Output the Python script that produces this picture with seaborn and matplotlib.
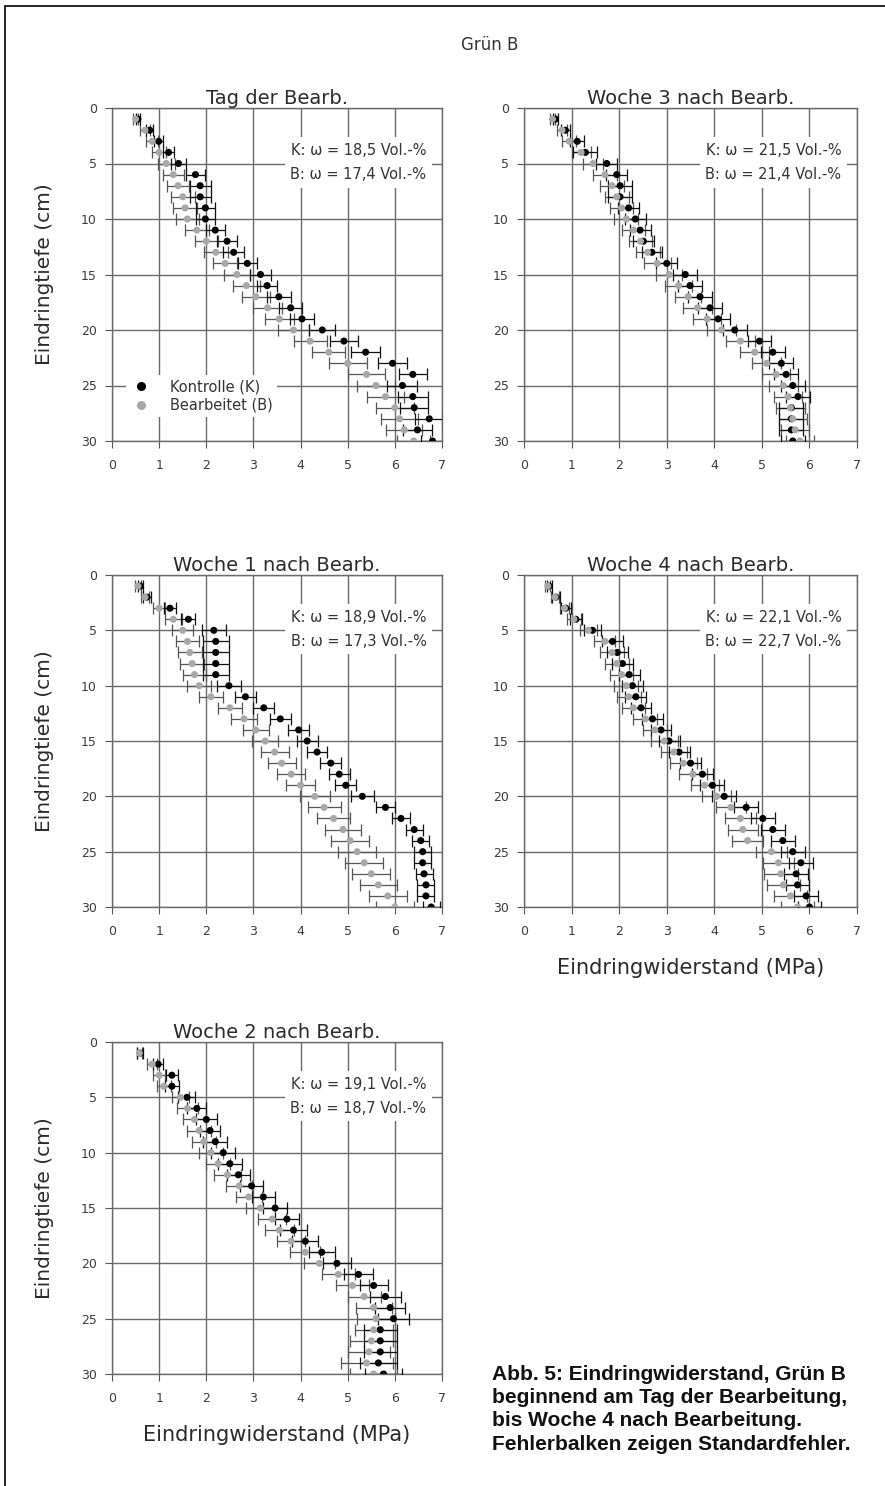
import numpy as np
import pandas as pd
import matplotlib
matplotlib.use("Agg")
import matplotlib.pyplot as plt
import seaborn as sns
from matplotlib.lines import Line2D

sns.set_style("ticks")
plt.rcParams['font.family'] = ['DejaVu Sans']

depth = list(range(1, 31))

# Tag der Bearbeitung
k_tag = [0.55, 0.80, 0.99, 1.20, 1.41, 1.77, 1.87, 1.87, 1.98, 1.98, 2.19, 2.44, 2.58, 2.87, 3.15,
         3.29, 3.54, 3.79, 4.03, 4.46, 4.92, 5.38, 5.95, 6.38, 6.16, 6.38, 6.41, 6.73, 6.48, 6.80]
b_tag = [0.50, 0.70, 0.85, 1.00, 1.15, 1.30, 1.40, 1.50, 1.55, 1.60, 1.80, 2.00, 2.20, 2.40, 2.65,
         2.85, 3.05, 3.30, 3.55, 3.85, 4.20, 4.60, 5.00, 5.40, 5.60, 5.80, 6.00, 6.10, 6.20, 6.40]
k_tag_se = [0.05, 0.08, 0.10, 0.12, 0.15, 0.20, 0.22, 0.22, 0.20, 0.20, 0.20, 0.22, 0.22, 0.20, 0.22,
            0.22, 0.25, 0.25, 0.25, 0.28, 0.30, 0.30, 0.30, 0.30, 0.32, 0.32, 0.30, 0.30, 0.30, 0.25]
b_tag_se = [0.06, 0.10, 0.12, 0.15, 0.18, 0.22, 0.24, 0.25, 0.25, 0.25, 0.25, 0.25, 0.25, 0.25, 0.28,
            0.28, 0.30, 0.30, 0.30, 0.32, 0.35, 0.35, 0.40, 0.40, 0.40, 0.40, 0.40, 0.40, 0.38, 0.35]

# Woche 1
k_w1 = [0.60, 0.74, 1.23, 1.62, 2.16, 2.20, 2.20, 2.20, 2.20, 2.48, 2.83, 3.22, 3.57, 3.96, 4.14,
        4.35, 4.64, 4.82, 4.96, 5.31, 5.80, 6.13, 6.41, 6.55, 6.59, 6.59, 6.62, 6.66, 6.66, 6.77]
b_w1 = [0.55, 0.70, 1.00, 1.30, 1.50, 1.60, 1.65, 1.70, 1.75, 1.85, 2.10, 2.50, 2.80, 3.05, 3.25,
        3.45, 3.60, 3.80, 4.00, 4.30, 4.50, 4.70, 4.90, 5.05, 5.20, 5.35, 5.50, 5.65, 5.85, 6.00]
k_w1_se = [0.05, 0.08, 0.12, 0.15, 0.25, 0.28, 0.28, 0.28, 0.28, 0.25, 0.22, 0.22, 0.22, 0.22, 0.22,
           0.22, 0.22, 0.22, 0.22, 0.25, 0.20, 0.20, 0.18, 0.18, 0.18, 0.18, 0.18, 0.18, 0.18, 0.18]
b_w1_se = [0.06, 0.08, 0.12, 0.18, 0.22, 0.25, 0.25, 0.25, 0.25, 0.25, 0.25, 0.25, 0.28, 0.28, 0.28,
           0.30, 0.30, 0.30, 0.30, 0.32, 0.35, 0.35, 0.38, 0.40, 0.40, 0.40, 0.40, 0.40, 0.40, 0.40]

# Woche 2
k_w2 = [0.60, 0.98, 1.27, 1.27, 1.59, 1.80, 2.00, 2.08, 2.19, 2.36, 2.50, 2.68, 2.96, 3.21, 3.46,
        3.71, 3.85, 4.10, 4.45, 4.77, 5.23, 5.55, 5.80, 5.90, 5.97, 5.69, 5.69, 5.69, 5.65, 5.76]
b_w2 = [0.58, 0.85, 1.00, 1.10, 1.45, 1.60, 1.75, 1.85, 1.95, 2.10, 2.25, 2.45, 2.70, 2.90, 3.15,
        3.40, 3.55, 3.80, 4.10, 4.40, 4.80, 5.10, 5.35, 5.55, 5.60, 5.55, 5.50, 5.45, 5.40, 5.55]
k_w2_se = [0.06, 0.10, 0.12, 0.15, 0.18, 0.20, 0.22, 0.22, 0.25, 0.25, 0.25, 0.25, 0.25, 0.25, 0.25,
           0.25, 0.28, 0.28, 0.28, 0.30, 0.30, 0.30, 0.32, 0.32, 0.32, 0.35, 0.35, 0.35, 0.40, 0.40]
b_w2_se = [0.06, 0.10, 0.12, 0.15, 0.18, 0.22, 0.25, 0.25, 0.25, 0.25, 0.25, 0.28, 0.28, 0.28, 0.30,
           0.30, 0.30, 0.30, 0.32, 0.32, 0.35, 0.35, 0.35, 0.38, 0.40, 0.40, 0.45, 0.45, 0.55, 0.50]

# Woche 3
k_w3 = [0.66, 0.87, 1.12, 1.29, 1.74, 1.95, 2.02, 2.02, 2.20, 2.34, 2.44, 2.51, 2.69, 3.00, 3.39,
        3.49, 3.70, 3.91, 4.08, 4.43, 4.95, 5.23, 5.41, 5.51, 5.65, 5.76, 5.62, 5.62, 5.62, 5.65]
b_w3 = [0.60, 0.80, 0.95, 1.20, 1.45, 1.70, 1.85, 1.95, 2.05, 2.15, 2.30, 2.45, 2.60, 2.80, 3.05,
        3.25, 3.45, 3.65, 3.85, 4.15, 4.55, 4.85, 5.10, 5.30, 5.45, 5.55, 5.60, 5.65, 5.70, 5.80]
k_w3_se = [0.06, 0.10, 0.15, 0.25, 0.22, 0.22, 0.25, 0.25, 0.22, 0.22, 0.22, 0.22, 0.22, 0.22, 0.25,
           0.25, 0.25, 0.25, 0.25, 0.25, 0.25, 0.25, 0.25, 0.25, 0.25, 0.25, 0.25, 0.25, 0.25, 0.25]
b_w3_se = [0.06, 0.10, 0.15, 0.20, 0.22, 0.25, 0.25, 0.25, 0.25, 0.25, 0.25, 0.25, 0.25, 0.28, 0.28,
           0.28, 0.28, 0.30, 0.30, 0.30, 0.30, 0.30, 0.30, 0.30, 0.30, 0.30, 0.30, 0.30, 0.30, 0.30]

# Woche 4
k_w4 = [0.53, 0.67, 0.88, 1.09, 1.44, 1.86, 1.96, 2.07, 2.21, 2.28, 2.35, 2.46, 2.70, 2.88, 3.05,
        3.26, 3.50, 3.75, 3.96, 4.21, 4.67, 5.02, 5.23, 5.44, 5.65, 5.82, 5.72, 5.75, 5.93, 6.00]
b_w4 = [0.50, 0.65, 0.85, 1.05, 1.35, 1.70, 1.85, 1.95, 2.05, 2.15, 2.20, 2.30, 2.55, 2.75, 2.95,
        3.15, 3.35, 3.55, 3.80, 4.05, 4.35, 4.55, 4.60, 4.70, 5.20, 5.35, 5.40, 5.45, 5.60, 5.75]
k_w4_se = [0.05, 0.08, 0.10, 0.12, 0.18, 0.22, 0.22, 0.22, 0.22, 0.22, 0.22, 0.22, 0.22, 0.22, 0.22,
           0.22, 0.22, 0.22, 0.25, 0.25, 0.25, 0.25, 0.25, 0.25, 0.25, 0.25, 0.25, 0.25, 0.25, 0.25]
b_w4_se = [0.05, 0.08, 0.10, 0.15, 0.18, 0.22, 0.25, 0.25, 0.25, 0.25, 0.25, 0.25, 0.25, 0.25, 0.28,
           0.28, 0.28, 0.30, 0.30, 0.30, 0.32, 0.32, 0.32, 0.32, 0.32, 0.32, 0.35, 0.35, 0.35, 0.35]

titles = ["Tag der Bearb.", "Woche 1 nach Bearb.", "Woche 2 nach Bearb.",
          "Woche 3 nach Bearb.", "Woche 4 nach Bearb."]
omega_k = ["18,5", "18,9", "19,1", "21,5", "22,1"]
omega_b = ["17,4", "17,3", "18,7", "21,4", "22,7"]
series_names = ["Kontrolle (K)", "Bearbeitet (B)"]
x_ticks = [0, 1, 2, 3, 4, 5, 6, 7]
y_ticks = [0, 5, 10, 15, 20, 25, 30]

panels = [
    (k_tag, k_tag_se, b_tag, b_tag_se),
    (k_w1, k_w1_se, b_w1, b_w1_se),
    (k_w2, k_w2_se, b_w2, b_w2_se),
    (k_w3, k_w3_se, b_w3, b_w3_se),
    (k_w4, k_w4_se, b_w4, b_w4_se),
]

W, H = 885, 1486
fig = plt.figure(figsize=(W / 100, H / 100), dpi=100)

def rect(l, t, r, b):
    return [l / W, 1 - b / H, (r - l) / W, (b - t) / H]

rects = [rect(112, 108, 442, 441), rect(112, 575, 442, 907), rect(112, 1042, 442, 1374),
         rect(524, 108, 857, 441), rect(524, 575, 857, 907)]

gridc = "#6a6a6a"
txtc = "#2a2a2a"
colors = {series_names[0]: "black", series_names[1]: "#a8a8a8"}

for i, (r, (kv, kse, bv, bse)) in enumerate(zip(rects, panels)):
    ax = fig.add_axes(r)
    df = pd.DataFrame({
        "x": kv + bv,
        "se": kse + bse,
        "depth": depth + depth,
        "Serie": [series_names[0]] * 30 + [series_names[1]] * 30,
    })
    for name, z, ec in [(series_names[1], 2, "#555555"), (series_names[0], 3, "#111111")]:
        d = df[df["Serie"] == name]
        ax.errorbar(d["x"], d["depth"], xerr=d["se"], fmt="none", ecolor=ec,
                    elinewidth=0.9, capsize=4.5, capthick=0.9, zorder=z)
    sns.scatterplot(data=df, x="x", y="depth", hue="Serie", palette=colors,
                    hue_order=[series_names[1], series_names[0]],
                    s=26, edgecolor="none", ax=ax, legend=False, zorder=4)
    ax.set_xlim(0, 7)
    ax.set_ylim(30, 0)
    ax.set_xticks(x_ticks)
    ax.set_yticks(y_ticks)
    ax.grid(True, color=gridc, lw=1.0, zorder=0)
    ax.set_axisbelow(True)
    for s in ax.spines.values():
        s.set_color(gridc)
        s.set_linewidth(1.0)
    ax.tick_params(axis="both", labelsize=9, colors="#555555", labelcolor="#3a3a3a",
                   length=5, width=0.8)
    ax.tick_params(axis="x", pad=8)
    ax.tick_params(axis="y", pad=6)
    ax.set_xlabel("")
    ax.set_ylabel("")
    ax.set_title(titles[i], fontsize=14, pad=2, color=txtc)
    ax.text(0.953, 0.895, f"K: ω = {omega_k[i]} Vol.-%\nB: ω = {omega_b[i]} Vol.-%",
            transform=ax.transAxes, ha="right", va="top", fontsize=10.5, color="#333333",
            linespacing=1.75,
            bbox=dict(facecolor="white", edgecolor="none", pad=4), zorder=6)
    if i < 3:
        ax.set_ylabel("Eindringtiefe (cm)", fontsize=14.5, color=txtc)
        ax.yaxis.set_label_coords(-0.175, 0.5)
    if i in (2, 4):
        ax.set_xlabel("Eindringwiderstand (MPa)", fontsize=15, color=txtc)
        ax.xaxis.set_label_coords(0.5, -0.155)
    if i == 0:
        handles = [Line2D([], [], marker="o", ls="none", color="black", markersize=5.5),
                   Line2D([], [], marker="o", ls="none", color="#a8a8a8", markersize=5.5)]
        leg = ax.legend(handles, series_names, loc="lower left", bbox_to_anchor=(0.02, 0.05),
                        fontsize=10.5, frameon=True, framealpha=1, edgecolor="none",
                        handletextpad=1.2, borderpad=0.3, labelspacing=0.25, handlelength=1.5)
        leg.set_zorder(7)
        for t in leg.get_texts():
            t.set_color("#333333")

fig.text(490 / W, 1 - 45 / H, "Grün B", ha="center", va="center", fontsize=12, color="#333333")

caption = ("Abb. 5: Eindringwiderstand, Grün B\n"
           "beginnend am Tag der Bearbeitung,\n"
           "bis Woche 4 nach Bearbeitung.\n"
           "Fehlerbalken zeigen Standardfehler.")
fig.text(492 / W, 1 - 1365 / H, caption, ha="left", va="top", fontsize=15,
         fontweight="bold", linespacing=1.28, color="#111111", family="Liberation Sans")

fig.add_artist(Line2D([5 / W, 1], [1 - 6 / H, 1 - 6 / H], color="black", lw=1.2))
fig.add_artist(Line2D([5 / W, 5 / W], [0, 1 - 6 / H], color="black", lw=1.2))

fig.savefig("out.png", dpi=100, facecolor="white")
